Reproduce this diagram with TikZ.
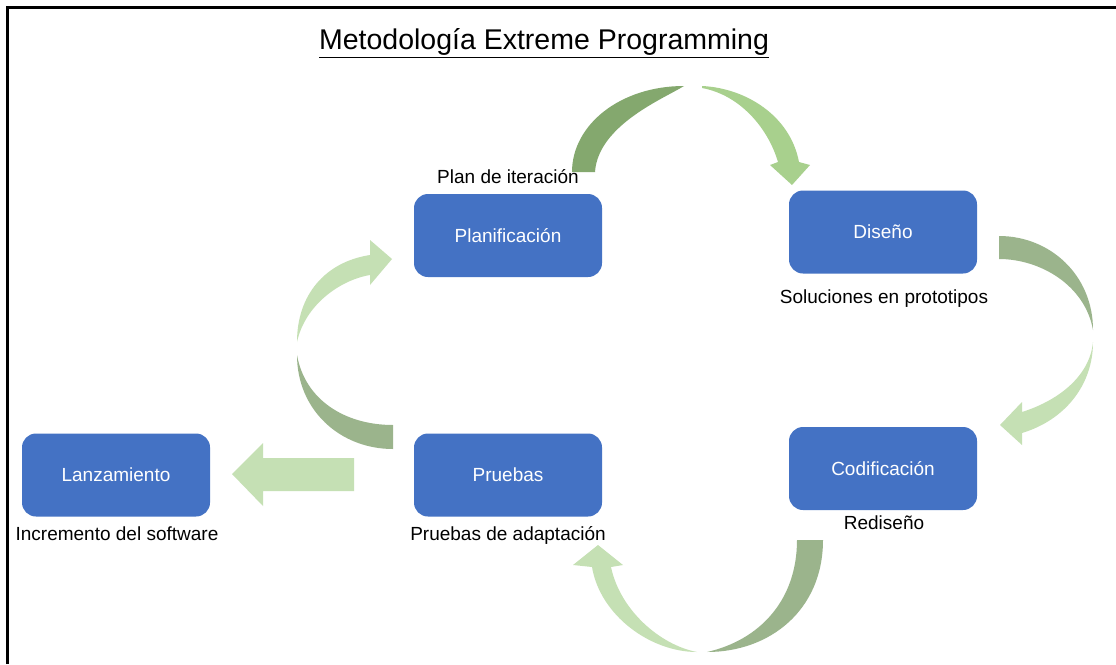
\documentclass[tikz,border=0pt]{standalone}
\usepackage{fontspec}
\setmainfont{Liberation Sans}
\definecolor{boxblue}{RGB}{68,114,196}
\definecolor{topdark}{RGB}{132,168,110}
\definecolor{toplight}{RGB}{168,208,141}
\definecolor{arcdark}{RGB}{155,180,140}
\definecolor{arclight}{RGB}{197,224,180}
\begin{document}
\begin{tikzpicture}[x=1pt,y=-1pt,
  stepbox/.style={fill=boxblue,draw=none,rounded corners=14pt,minimum width=188pt,
    minimum height=83pt,text=white,font=\fontsize{19}{22}\selectfont,
    text height=13.6pt,text depth=0pt,inner sep=0pt},
  caption/.style={font=\fontsize{19}{22}\selectfont,text height=13.6pt,text depth=0pt,inner sep=0pt}]
\useasboundingbox (0,0) rectangle (1116,664);
\fill[white] (0,0) rectangle (1116,664);
% frame
\draw[line width=2.5pt] (7.5,664) -- (7.5,7.5) -- (1116,7.5);
% title
\node[inner sep=0pt,font=\fontsize{28.5}{32}\selectfont,text height=20.4pt,text depth=0pt] (title) at (544,39.5) {\underline{Metodología Extreme Programming}};
% stages
\node[stepbox] (plan) at (508,235.5) {Planificación};
\node[stepbox] (dis) at (883,232) {Diseño};
\node[stepbox] (lanz) at (116,475) {Lanzamiento};
\node[stepbox] (prue) at (508,475) {Pruebas};
\node[stepbox] (cod) at (883,468.5) {Codificación};
% captions
\node[caption] (planc) at (508,177) {Plan de iteración};
\node[caption] (disc) at (884,297) {Soluciones en prototipos};
\node[caption] (lanzc) at (117,534) {Incremento del software};
\node[caption] (pruec) at (508,534) {Pruebas de adaptación};
\node[caption] (codc) at (884,523) {Rediseño};
% curved arrow: planning -> design
\fill[topdark] (572,172) .. controls (572,125) and (620,86) .. (684,86)
  .. controls (665,98) and (598,125) .. (595,172) -- cycle;
\fill[toplight] (702,86) .. controls (745,88) and (790,115) .. (799,162)
  -- (810,165) -- (792,185) -- (770,165) -- (778,162)
  .. controls (768,128) and (740,95) .. (702,88) -- cycle;
% curved arrow: design -> coding
\fill[arcdark] (999,236) .. controls (1050,236) and (1093,275) .. (1093,330)
  .. controls (1085,285) and (1040,259) .. (999,259) -- cycle;
\fill[arclight] (1093,342) .. controls (1093,385) and (1065,420) .. (1022,433)
  -- (1022,445) -- (1000,425) -- (1022,402) -- (1022,412)
  .. controls (1060,400) and (1090,375) .. (1093,342) -- cycle;
% curved arrow: coding -> testing
\fill[arcdark] (823,540) .. controls (823,610) and (770,652) .. (707,652)
  .. controls (760,640) and (797,600) .. (797,540) -- cycle;
\fill[arclight] (697,652) .. controls (650,652) and (600,615) .. (592,567)
  -- (573,565) -- (598,545) -- (623,565) -- (611,567)
  .. controls (620,610) and (660,645) .. (697,652) -- cycle;
% curved arrow: testing -> planning
\fill[arcdark] (393,449) .. controls (340,449) and (297,410) .. (297,355)
  .. controls (305,400) and (345,425) .. (393,425) -- cycle;
\fill[arclight] (297,342) .. controls (297,295) and (325,262) .. (370,255)
  -- (370,240) -- (392,259) -- (370,285) -- (370,275)
  .. controls (340,280) and (305,305) .. (297,342) -- cycle;
% straight arrow: testing -> release
\fill[arclight] (354,458) -- (263,458) -- (263,443) -- (232,474) -- (263,506) -- (263,491) -- (354,491) -- cycle;
\end{tikzpicture}
\end{document}
